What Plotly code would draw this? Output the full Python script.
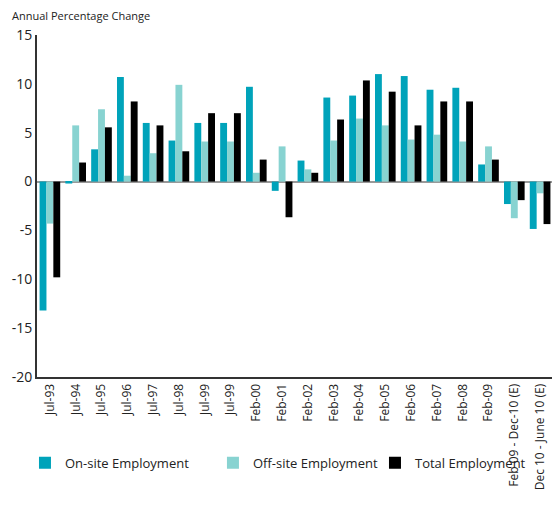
import plotly.graph_objects as go

categories = ["Jul-93", "Jul-94", "Jul-95", "Jul-96", "Jul-97", "Jul-98", "Jul-99", "Jul-99",
              "Feb-00", "Feb-01", "Feb-02", "Feb-03", "Feb-04", "Feb-05", "Feb-06", "Feb-07",
              "Feb-08", "Feb-09", "Feb 09 - Dec-10 (E)", "Dec 10 - June 10 (E)"]
on_site = [-13.2, -0.2, 3.3, 10.7, 6.0, 4.2, 6.0, 6.0, 9.7, -0.95, 2.15, 8.6, 8.8, 11.0, 10.8, 9.4,
           9.6, 1.75, -2.3, -4.85]
off_site = [-4.3, 5.75, 7.4, 0.6, 2.9, 9.9, 4.1, 4.1, 0.9, 3.6, 1.25, 4.2, 6.45, 5.75, 4.3, 4.8,
            4.1, 3.6, -3.75, -1.2]
total = [-9.8, 1.95, 5.55, 8.2, 5.75, 3.1, 7.0, 7.0, 2.25, -3.65, 0.9, 6.35, 10.35, 9.2, 5.75, 8.2,
         8.2, 2.25, -1.9, -4.35]
y_tick_values = [15, 10, 5, 0, -5, -10, -15, -20]
y_tick_labels = ["15", "10", "5", "0", "-5", "-10", "-15", "-20"]

positions = list(range(len(categories)))

fig = go.Figure()
fig.add_trace(go.Bar(x=positions, y=on_site, name="On-site Employment", marker_color="#00A3BA",
                     marker_line_width=0, legend="legend"))
fig.add_trace(go.Bar(x=positions, y=off_site, name="Off-site Employment", marker_color="#88D3D1",
                     marker_line_width=0, legend="legend2"))
fig.add_trace(go.Bar(x=positions, y=total, name="Total Employment", marker_color="#000000",
                     marker_line_width=0, legend="legend3"))

font_family = "Open Sans, Noto Sans, DejaVu Sans, sans-serif"
legend_style = dict(orientation="h", xanchor="left", y=-0.251, yanchor="middle",
                    font=dict(size=13, color="#222222"), itemwidth=30,
                    bgcolor="rgba(0,0,0,0)")

fig.update_layout(
    width=552, height=510,
    margin=dict(l=29, r=7, t=27, b=141, autoexpand=False),
    paper_bgcolor="white", plot_bgcolor="white",
    barmode="group", bargap=0.2, bargroupgap=0,
    font=dict(family=font_family, color="#222222"),
    showlegend=True,
    legend=dict(x=-0.0233, **legend_style),
    legend2=dict(x=0.341, **legend_style),
    legend3=dict(x=0.655, **legend_style),
    xaxis=dict(tickmode="array", tickvals=positions, ticktext=categories, tickangle=-90,
               range=[-0.5, len(categories) - 0.5], showline=True, linecolor="#333333",
               linewidth=2, ticks="", showgrid=False, zeroline=False,
               tickfont=dict(size=12, color="#222222"), automargin=False),
    yaxis=dict(range=[-20, 15], tickmode="array", tickvals=y_tick_values, ticktext=y_tick_labels,
               showline=True, linecolor="#333333", linewidth=2,
               ticks="", showgrid=False, zeroline=True, zerolinecolor="#999999",
               zerolinewidth=2, tickfont=dict(size=14, color="#222222"), automargin=False),
    annotations=[dict(text="Annual Percentage Change", xref="paper", yref="paper",
                      x=-0.052, y=1.058, xanchor="left", yanchor="middle", showarrow=False,
                      font=dict(size=11, color="#222222"))],
)

fig.write_html("out.html")
